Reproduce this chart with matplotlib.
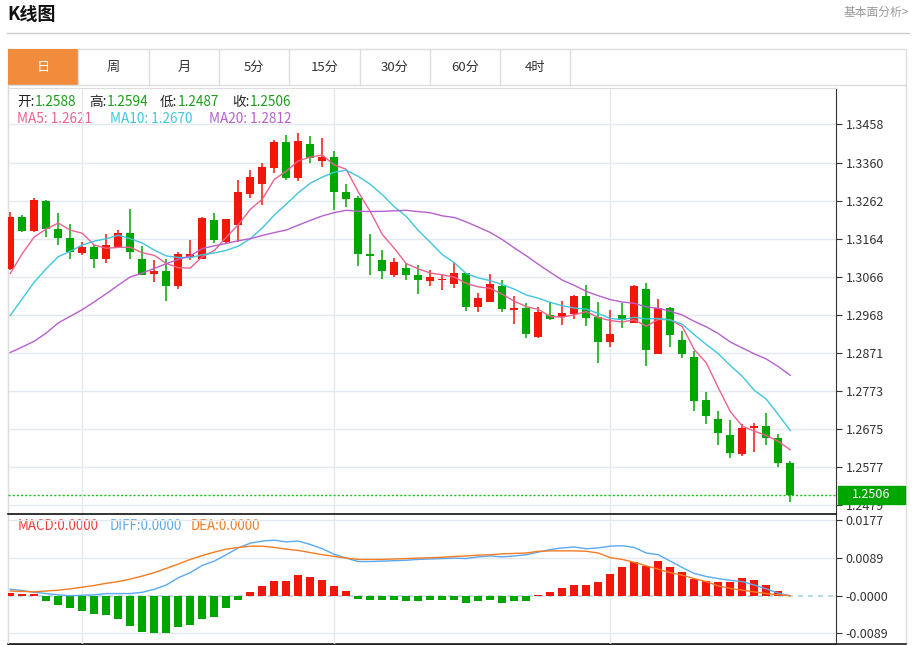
import pandas as pd
import matplotlib
matplotlib.use("Agg")
import matplotlib.pyplot as plt
from matplotlib.patches import Rectangle

plt.rcParams['font.family'] = ['Noto Sans CJK SC', 'DejaVu Sans']

# daily candles (open / high / low / close)
opens = [1.3086, 1.3219, 1.3183, 1.3262, 1.3190, 1.3167, 1.3128, 1.3143, 1.3112, 1.3143,
         1.3178, 1.3113, 1.3073, 1.3081, 1.3042, 1.3118, 1.3113, 1.3212, 1.3156, 1.3199,
         1.3279, 1.3306, 1.3347, 1.3413, 1.3321, 1.3407, 1.3364, 1.3375, 1.3285, 1.3268,
         1.3124, 1.3109, 1.3071, 1.3090, 1.3070, 1.3056, 1.3057, 1.3049, 1.3075, 1.2989,
         1.3002, 1.3042, 1.2982, 1.2985, 1.2912, 1.2967, 1.2963, 1.2972, 1.3016, 1.2963,
         1.2899, 1.2968, 1.2948, 1.3036, 1.2869, 1.2987, 1.2903, 1.2860, 1.2749, 1.2700,
         1.2659, 1.2612, 1.2679, 1.2683, 1.2653, 1.2588]
highs = [1.3232, 1.3224, 1.3268, 1.3263, 1.3229, 1.3201, 1.3156, 1.3148, 1.3176, 1.3186,
         1.3240, 1.3145, 1.3109, 1.3111, 1.3129, 1.3160, 1.3219, 1.3231, 1.3216, 1.3315,
         1.3342, 1.3360, 1.3418, 1.3431, 1.3435, 1.3429, 1.3424, 1.3390, 1.3306, 1.3273,
         1.3176, 1.3135, 1.3115, 1.3103, 1.3096, 1.3085, 1.3073, 1.3103, 1.3077, 1.3025,
         1.3073, 1.3059, 1.3017, 1.2998, 1.2989, 1.3002, 1.3003, 1.3019, 1.3045, 1.3002,
         1.2982, 1.3000, 1.3045, 1.3051, 1.3010, 1.2990, 1.2926, 1.2876, 1.2770, 1.2722,
         1.2699, 1.2687, 1.2691, 1.2716, 1.2663, 1.2594]
lows = [1.3084, 1.3182, 1.3182, 1.3169, 1.3148, 1.3112, 1.3122, 1.3089, 1.3102, 1.3143,
        1.3112, 1.3070, 1.3052, 1.3004, 1.3034, 1.3110, 1.3113, 1.3154, 1.3152, 1.3156,
        1.3269, 1.3251, 1.3332, 1.3315, 1.3313, 1.3360, 1.3349, 1.3239, 1.3246, 1.3094,
        1.3071, 1.3061, 1.3065, 1.3057, 1.3021, 1.3043, 1.3032, 1.3038, 1.2979, 1.2976,
        1.3002, 1.2976, 1.2946, 1.2909, 1.2910, 1.2956, 1.2942, 1.2959, 1.2939, 1.2846,
        1.2886, 1.2936, 1.2948, 1.2836, 1.2869, 1.2886, 1.2859, 1.2722, 1.2689, 1.2633,
        1.2601, 1.2607, 1.2616, 1.2633, 1.2579, 1.2487]
closes = [1.3219, 1.3184, 1.3263, 1.3190, 1.3166, 1.3129, 1.3143, 1.3113, 1.3147, 1.3178,
          1.3130, 1.3072, 1.3081, 1.3042, 1.3124, 1.3125, 1.3218, 1.3160, 1.3214, 1.3284,
          1.3322, 1.3349, 1.3413, 1.3321, 1.3416, 1.3371, 1.3375, 1.3285, 1.3266, 1.3124,
          1.3120, 1.3082, 1.3105, 1.3070, 1.3057, 1.3066, 1.3060, 1.3075, 1.2989, 1.3012,
          1.3049, 1.2983, 1.2985, 1.2920, 1.2976, 1.2958, 1.2974, 1.3016, 1.2961, 1.2899,
          1.2920, 1.2956, 1.3043, 1.2879, 1.2986, 1.2918, 1.2867, 1.2747, 1.2709, 1.2665,
          1.2614, 1.2679, 1.2683, 1.2653, 1.2589, 1.2506]

# moving averages before enough closes are on screen
ma5_head = [1.3075, 1.3126, 1.3169, 1.3189]
ma10_head = [1.2967, 1.3010, 1.3053, 1.3087, 1.3118, 1.3132, 1.3148, 1.3158, 1.3164]
ma20_head = [1.2872, 1.2886, 1.2901, 1.2922, 1.2948, 1.2965, 1.2982, 1.3002, 1.3023, 1.3045,
             1.3066, 1.3076, 1.3088, 1.3100, 1.3111, 1.3120, 1.3139, 1.3146, 1.3152]
# values printed in the legend
ma_legend = {"MA5": 1.2621, "MA10": 1.2670, "MA20": 1.2812}

# MACD panel
macd_hist = [0.0007, 0.0003, 0.0003, -0.0012, -0.0021, -0.0029, -0.0035, -0.0043, -0.0046, -0.0054,
             -0.0071, -0.0084, -0.0087, -0.0087, -0.0074, -0.0068, -0.0055, -0.0050, -0.0029, -0.0009,
             0.0008, 0.0023, 0.0034, 0.0035, 0.0048, 0.0043, 0.0036, 0.0022, 0.0010, -0.0007,
             -0.0009, -0.0011, -0.0009, -0.0012, -0.0012, -0.0009, -0.0009, -0.0010, -0.0018, -0.0012,
             -0.0009, -0.0016, -0.0013, -0.0012, 0.0002, 0.0008, 0.0017, 0.0026, 0.0026, 0.0033,
             0.0050, 0.0067, 0.0078, 0.0069, 0.0081, 0.0068, 0.0055, 0.0040, 0.0035, 0.0032,
             0.0033, 0.0041, 0.0036, 0.0025, 0.0011, 0.0]
diff = [0.0015, 0.0012, 0.0008, 0.0005, 0.0002, 0.0000, 0.0001, 0.0002, 0.0005, 0.0005,
        0.0005, 0.0008, 0.0015, 0.0025, 0.0042, 0.0054, 0.0071, 0.0081, 0.0096, 0.0112,
        0.0123, 0.0128, 0.0130, 0.0126, 0.0128, 0.0120, 0.0110, 0.0097, 0.0088, 0.0080,
        0.0080, 0.0081, 0.0082, 0.0083, 0.0085, 0.0086, 0.0087, 0.0088, 0.0087, 0.0091,
        0.0093, 0.0091, 0.0093, 0.0096, 0.0102, 0.0108, 0.0112, 0.0114, 0.0110, 0.0112,
        0.0116, 0.0117, 0.0113, 0.0100, 0.0096, 0.0081, 0.0066, 0.0052, 0.0045, 0.0040,
        0.0036, 0.0033, 0.0025, 0.0016, 0.0006, 0.0000]
dea = [0.0011, 0.0010, 0.0009, 0.0011, 0.0013, 0.0016, 0.0020, 0.0024, 0.0029, 0.0033,
       0.0039, 0.0046, 0.0054, 0.0064, 0.0074, 0.0085, 0.0094, 0.0102, 0.0109, 0.0113,
       0.0116, 0.0116, 0.0113, 0.0109, 0.0106, 0.0101, 0.0096, 0.0092, 0.0088, 0.0085,
       0.0085, 0.0085, 0.0086, 0.0087, 0.0088, 0.0089, 0.0090, 0.0092, 0.0093, 0.0095,
       0.0096, 0.0098, 0.0099, 0.0100, 0.0104, 0.0105, 0.0105, 0.0105, 0.0104, 0.0100,
       0.0089, 0.0085, 0.0078, 0.0070, 0.0062, 0.0054, 0.0048, 0.0040, 0.0033, 0.0023,
       0.0017, 0.0013, 0.0009, 0.0005, 0.0002, 0.0000]

price_ticks = [1.3458, 1.3360, 1.3262, 1.3164, 1.3066, 1.2968, 1.2871, 1.2773, 1.2675, 1.2577, 1.2479]
macd_ticks = [0.0177, 0.00885, 0.0, -0.00885]
macd_labels = ["0.0177", "0.0089", "-0.0000", "-0.0089"]
month_starts = [6, 27, 50]
tabs = ["日", "周", "月", "5分", "15分", "30分", "60分", "4时"]
last_price = 1.2506

RED = "#F2170B"
GREEN = "#00A600"
C_MA5, C_MA10, C_MA20 = "#EA6290", "#3FC6DE", "#B660CC"
C_DIFF, C_DEA = "#5AA9F2", "#F57B22"
GRID = "#E3E9EF"

W, H = 913, 645
fig = plt.figure(figsize=(W / 100, H / 100), dpi=100)

def box(x0, y0, x1, y1):
    return [x0 / W, 1 - y1 / H, (x1 - x0) / W, (y1 - y0) / H]

# background layer in pixel coordinates for the page furniture
bg = fig.add_axes([0, 0, 1, 1])
bg.set_xlim(0, W)
bg.set_ylim(H, 0)
bg.axis("off")
bg.text(7, 14, "K线图", fontsize=13, weight="bold", va="center", ha="left", color="#111")
bg.text(909, 12.5, "基本面分析>", fontsize=8.5, va="center", ha="right", color="#999")
bg.plot([7, 909], [33, 33], color="#CCCCCC", lw=1)
bg.add_patch(Rectangle((8, 49), 898, 595, fill=False, ec="#DDDDDD", lw=1))
bg.plot([8, 906], [85, 85], color="#DDDDDD", lw=1)
tab_w = 70.3
for k, name in enumerate(tabs):
    x0 = 8 + k * tab_w
    if k == 0:
        bg.add_patch(Rectangle((x0, 49), tab_w, 36, color="#F28C3D", lw=0))
    bg.plot([x0 + tab_w, x0 + tab_w], [49, 85], color="#DDDDDD", lw=1)
    bg.text(x0 + tab_w / 2, 67, name, fontsize=9.5, ha="center", va="center",
            color="white" if k == 0 else "#333333")
bg.plot([8, 906], [644, 644], color="#222222", lw=1.2)

# legends
for lab, val, xl, xv in [("开:", opens[-1], 17, 35), ("高:", highs[-1], 89, 107),
                         ("低:", lows[-1], 160, 178), ("收:", closes[-1], 232, 250)]:
    bg.text(xl, 102, lab, fontsize=9.8, va="center", color="#222")
    bg.text(xv, 102, f"{val:.4f}", fontsize=9.8, va="center", color="#1A9E1A")

bg.text(17, 119, f"MA5: {ma_legend['MA5']:.4f}", fontsize=9.8, va="center", color=C_MA5)
bg.text(110, 119, f"MA10: {ma_legend['MA10']:.4f}", fontsize=9.8, va="center", color=C_MA10)
bg.text(209, 119, f"MA20: {ma_legend['MA20']:.4f}", fontsize=9.8, va="center", color=C_MA20)
bg.text(18, 526, "MACD:0.0000", fontsize=9.6, va="center", color="#F0403A")
bg.text(110, 526, "DIFF:0.0000", fontsize=9.6, va="center", color=C_DIFF)
bg.text(191, 526, "DEA:0.0000", fontsize=9.6, va="center", color=C_DEA)

closes_s = pd.Series(closes)
ma5 = ma5_head + list(closes_s.rolling(5).mean().dropna())
ma10 = ma10_head + list(closes_s.rolling(10).mean().dropna())
ma20 = ma20_head + list(closes_s.rolling(20).mean().dropna())

idx = list(range(len(closes)))
xlim = (-0.19, 68.81)

# ---- price panel ----
ax = fig.add_axes(box(8, 88, 836, 513.5))
ax.set_facecolor("none")
ax.set_xlim(*xlim)
ax.set_ylim(1.24583, 1.35514)
for t in price_ticks:
    ax.axhline(t, color=GRID, lw=1, zorder=0)
for m in month_starts:
    ax.axvline(m, color=GRID, lw=1, zorder=0)

colors = [RED if c >= o else GREEN for o, c in zip(opens, closes)]
bottoms = [min(o, c) for o, c in zip(opens, closes)]
heights = [max(abs(c - o), 0.00012) for o, c in zip(opens, closes)]
ax.vlines(idx, lows, highs, colors=colors, lw=1.1, zorder=3)
ax.bar(idx, heights, bottom=bottoms, width=0.7, color=colors, zorder=4)

ax.plot(idx, ma5, color=C_MA5, lw=1, zorder=5)
ax.plot(idx, ma10, color=C_MA10, lw=1, zorder=5)
ax.plot(idx, ma20, color=C_MA20, lw=1, zorder=5)

ax.axhline(last_price, color="#22B922", lw=1, ls=(0, (1.5, 1.5)), zorder=5)

ax.yaxis.tick_right()
ax.set_yticks(price_ticks)
ax.set_yticklabels([f"{t:.4f}" for t in price_ticks])
ax.tick_params(axis="y", length=4, color="#333", labelcolor="#333", labelsize=9, pad=3)
ax.set_xticks([])
for s in ["left", "top"]:
    ax.spines[s].set_color("#DDDDDD")
ax.spines["right"].set_color("#333333")
ax.spines["bottom"].set_visible(False)

tr = ax.get_yaxis_transform()
half = 9 / 3888
ax.add_patch(Rectangle((1.0024, last_price - half), 0.0809, 2 * half, transform=tr,
                       color=GREEN, clip_on=False, zorder=20))
ax.text(1.0024 + 0.0809 / 2, last_price, f"{last_price:.4f}", transform=tr, color="white",
        fontsize=9, ha="center", va="center", clip_on=False, zorder=21)

# ---- MACD panel ----
mx = fig.add_axes(box(8, 514, 836, 644))
mx.set_facecolor("none")
mx.set_xlim(*xlim)
mx.set_ylim(-0.011311, 0.019133)
for t in [0.0177, 0.00885, -0.00885]:
    mx.axhline(t, color=GRID, lw=1, zorder=0)
for m in month_starts:
    mx.axvline(m, color=GRID, lw=1, zorder=0)
mx.axhline(0, color="#A9D6EE", lw=1.2, ls=(0, (3, 3)), zorder=1)

bar_colors = [RED if v >= 0 else GREEN for v in macd_hist]
mx.bar(idx, macd_hist, width=0.7, color=bar_colors, zorder=3)
mx.plot(idx, diff, color=C_DIFF, lw=1, zorder=4)
mx.plot(idx, dea, color=C_DEA, lw=1, zorder=4)

mx.yaxis.tick_right()
mx.set_yticks(macd_ticks)
mx.set_yticklabels(macd_labels)
mx.tick_params(axis="y", length=4, color="#333", labelcolor="#333", labelsize=9, pad=3)
mx.set_xticks([])
mx.spines["left"].set_color("#DDDDDD")
mx.spines["top"].set_color("#111111")
mx.spines["top"].set_linewidth(1.2)
mx.spines["right"].set_color("#333333")
mx.spines["bottom"].set_color("#222222")

fig.savefig("out.png", dpi=100)
